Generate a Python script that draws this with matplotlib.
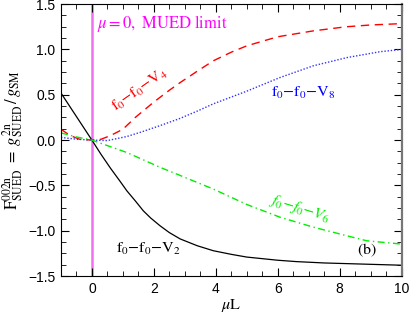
import numpy as np
import matplotlib
matplotlib.use("Agg")
import matplotlib.pyplot as plt
from matplotlib.ticker import MultipleLocator

plt.rcParams['font.family'] = ['Liberation Sans', 'DejaVu Sans']
plt.rcParams['mathtext.fontset'] = 'stix'

# values
x_v2 = [-1.0, -0.5, 0.0, 0.3, 0.6, 0.9, 1.13, 1.4, 1.66, 1.9, 2.2, 2.5, 2.85, 3.4, 3.92, 4.5, 5.0, 6.0, 6.6, 7.5, 8.2, 9.0, 10.0]
y_v2 = [0.52, 0.26, 0.0, -0.16, -0.31, -0.45, -0.56, -0.67, -0.78, -0.86, -0.945, -1.02, -1.09, -1.165, -1.22, -1.26, -1.29, -1.325, -1.34, -1.355, -1.362, -1.37, -1.38]

x_v4 = [-1.0, -0.7, -0.4, 0.0, 0.3, 0.6, 1.0, 1.4, 2.0, 2.5, 2.85, 3.4, 3.92, 4.5, 5.0, 6.0, 7.15, 8.2, 9.0, 10.0]
y_v4 = [0.12, 0.05, 0.01, 0.0, 0.01, 0.05, 0.12, 0.25, 0.42, 0.55, 0.635, 0.76, 0.875, 0.97, 1.04, 1.14, 1.205, 1.25, 1.27, 1.285]

x_v8 = [-1.0, -0.5, 0.0, 0.5, 1.13, 1.6, 2.2, 2.85, 3.4, 3.92, 5.0, 6.07, 7.15, 8.23, 9.3, 10.0]
y_v8 = [0.03, 0.01, 0.0, -0.005, 0.04, 0.09, 0.16, 0.24, 0.32, 0.40, 0.54, 0.69, 0.82, 0.91, 0.975, 1.0]

x_v6 = [-1.0, -0.5, 0.0, 0.37, 1.13, 2.2, 2.85, 3.92, 5.0, 6.07, 7.15, 8.23, 8.87, 10.0]
y_v6 = [0.08, 0.035, 0.0, -0.045, -0.137, -0.30, -0.39, -0.54, -0.71, -0.85, -0.96, -1.055, -1.11, -1.147]

x_ticks = [0, 2, 4, 6, 8, 10]
y_ticks = [-1.5, -1.0, -0.5, 0.0, 0.5, 1.0, 1.5]

fig = plt.figure(figsize=(4.09, 3.17), dpi=100)
ax = fig.add_axes([0.149, 0.129, 0.833, 0.858])

ax.axvline(0, color='#f070f0', lw=1.8, zorder=1)
ax.plot(x_v2, y_v2, color='black', lw=0.9)
ax.plot(x_v4, y_v4, color='#ff0000', lw=1.0, dashes=(6, 4))
ax.plot(x_v8, y_v8, color='#3333ff', lw=1.0, dashes=(1, 1.3))
ax.plot(x_v6, y_v6, color='#00ee00', lw=1.0, dashes=(5, 2.5, 1, 2.5))

ax.set_xlim(-1, 10)
ax.set_ylim(-1.5, 1.5)
ax.set_xticks(x_ticks)
ax.set_yticks(y_ticks)
ax.xaxis.set_minor_locator(MultipleLocator(0.5))
ax.yaxis.set_minor_locator(MultipleLocator(0.125))
ax.tick_params(which='both', direction='in', top=True, right=True, labelsize=10)
ax.tick_params(which='major', length=6, pad=4)
ax.tick_params(which='minor', length=3.5)
ax.spines['right'].set_color('#777777')
ax.spines['right'].set_linewidth(1.6)

ax.set_xlabel(r'$\mu\mathrm{L}$', fontsize=11.5, labelpad=1)
ax.set_ylabel(r'$\mathrm{F^{002n}_{SUED}}\ =\ g^{\mathrm{2n}}_{\mathrm{SUED}}\,/\,g_{\mathrm{SM}}$', fontsize=12, labelpad=2)

ax.text(0.15, 1.29, r'$\mu\mathrm{=0,\ MUED\ limit}$', color='#ff00ff', fontsize=12, va='center', ha='left')
ax.text(1.55, 0.56, r'$\mathrm{f_0{-}f_0{-}V_4}$', color='#ff0000', fontsize=11.5, rotation=35,
        ha='center', va='center', rotation_mode='anchor')
ax.text(6.83, 0.525, r'$\mathrm{f_0{-}f_0{-}V_8}$', color='#0000ff', fontsize=11.5, ha='center', va='center')
ax.text(6.72, -0.75, r'$f_0{-}f_0{-}V_6$', color='#00ee00', fontsize=11.5, rotation=-17,
        ha='center', va='center', rotation_mode='anchor')
ax.text(1.83, -1.20, r'$\mathrm{f_0{-}f_0{-}V_2}$', color='black', fontsize=11.5, ha='center', va='center')
ax.text(8.87, -1.22, r'$\mathrm{(b)}$', color='black', fontsize=11.5, ha='center', va='center')

fig.savefig('out.png', dpi=100)
